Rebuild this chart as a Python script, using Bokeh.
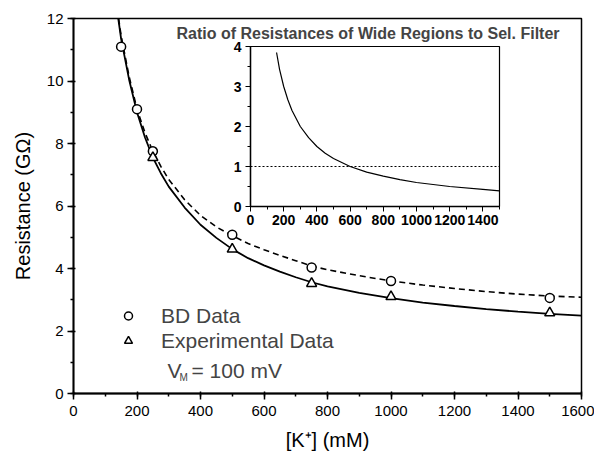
from bokeh.plotting import figure
from bokeh.models import (Range1d, SingleIntervalTicker, Legend, LegendItem, Label, Span)
from bokeh.embed import file_html
from bokeh.resources import INLINE

# ---- data ----
bd_x = [150, 200, 250, 500, 750, 1000, 1500]
bd_y = [11.1, 9.1, 7.75, 5.08, 4.03, 3.6, 3.06]
exp_x = [250, 500, 750, 1000, 1500]
exp_y = [7.55, 4.62, 3.52, 3.1, 2.58]

fit_exp_x = [141, 150, 175, 200, 225, 250, 275, 300, 350, 400, 450, 500, 550, 600, 650, 700,
             750, 800, 900, 1000, 1100, 1200, 1300, 1400, 1500, 1600]
fit_exp_y = [12.0, 11.35, 10.05, 9.0, 8.2, 7.55, 7.05, 6.62, 5.95, 5.4, 4.98, 4.62, 4.33, 4.1, 3.9, 3.72,
             3.56, 3.43, 3.22, 3.05, 2.91, 2.8, 2.7, 2.62, 2.55, 2.49]
fit_bd_x = [142, 150, 175, 200, 225, 250, 275, 300, 350, 400, 450, 500, 550, 600, 650, 700,
            750, 800, 900, 1000, 1100, 1200, 1300, 1400, 1500, 1600]
fit_bd_y = [12.0, 11.45, 10.15, 9.1, 8.35, 7.75, 7.27, 6.85, 6.2, 5.7, 5.33, 5.05, 4.8, 4.6, 4.42, 4.25,
            4.08, 3.96, 3.77, 3.6, 3.47, 3.36, 3.26, 3.18, 3.12, 3.08]

ratio_x = [157, 175, 200, 225, 250, 300, 350, 400, 450, 500, 600, 700, 800, 900, 1000, 1200, 1400, 1500]
ratio_y = [3.85, 3.43, 3.0, 2.67, 2.4, 2.0, 1.72, 1.5, 1.33, 1.2, 1.0, 0.86, 0.76, 0.67, 0.6, 0.5, 0.43, 0.39]
ratio_ref = 1.0

FONT = "Liberation Sans"

# ---- main figure ----
p = figure(width=586, height=446, output_backend="svg", toolbar_location=None,
           x_range=Range1d(0, 1600), y_range=Range1d(0, 12),
           min_border_left=64, min_border_right=13, min_border_top=10, min_border_bottom=61)
p.grid.visible = False
p.outline_line_color = "black"
p.outline_line_width = 1.5
p.background_fill_color = "white"
p.border_fill_color = "white"

p.xaxis.ticker = SingleIntervalTicker(interval=200, num_minor_ticks=2)
p.yaxis.ticker = SingleIntervalTicker(interval=2, num_minor_ticks=2)
for ax in (p.xaxis[0], p.yaxis[0]):
    ax.axis_line_width = 1.8
    ax.major_tick_line_width = 1.5
    ax.minor_tick_line_width = 1.5
    ax.major_tick_out = 6
    ax.major_tick_in = 2
    ax.minor_tick_out = 3
    ax.minor_tick_in = 0
    ax.major_label_text_font = FONT
    ax.major_label_text_font_size = "15px"
    ax.major_label_text_color = "black"
    ax.axis_label_text_font = FONT
    ax.axis_label_text_font_style = "normal"
    ax.axis_label_text_font_size = "20px"
    ax.axis_label_text_color = "black"
p.xaxis.axis_label = "[K\u207a] (mM)"
p.yaxis.axis_label = "Resistance (G\u03a9)"
p.xaxis.major_label_standoff = 6
p.xaxis.axis_label_standoff = 10
p.yaxis.major_label_standoff = 4
p.yaxis.axis_label_standoff = 10

p.line(fit_exp_x, fit_exp_y, line_color="black", line_width=1.8)
p.line(fit_bd_x, fit_bd_y, line_color="black", line_width=1.6, line_dash="6 4")
r_bd = p.scatter(bd_x, bd_y, marker="circle", size=9, fill_color="white",
                 line_color="black", line_width=1.5)
r_exp = p.scatter(exp_x, exp_y, marker="triangle", size=10, fill_color="white",
                  line_color="black", line_width=1.5)

legend = Legend(items=[LegendItem(label="BD Data", renderers=[r_bd]),
                       LegendItem(label="Experimental Data", renderers=[r_exp])],
                location=(45, 40), padding=0, spacing=0, margin=0,
                glyph_width=20, glyph_height=25, label_height=25, label_standoff=23,
                label_text_font=FONT, label_text_font_size="21px",
                border_line_color=None, background_fill_alpha=0)
p.add_layout(legend, "center")

p.add_layout(Label(x=94, y=23, x_units="screen", y_units="screen", text="V",
                   text_font=FONT, text_font_size="21px", text_baseline="middle"))
p.add_layout(Label(x=106, y=16, x_units="screen", y_units="screen", text="M",
                   text_font=FONT, text_font_size="10px", text_baseline="middle"))
p.add_layout(Label(x=118, y=23, x_units="screen", y_units="screen", text="= 100 mV",
                   text_font=FONT, text_font_size="21px", text_baseline="middle"))

# ---- inset ----
inset = figure(width=400, height=216, output_backend="svg", toolbar_location=None,
               x_range=Range1d(0, 1500), y_range=Range1d(0, 4),
               min_border_left=80, min_border_right=71, min_border_top=32, min_border_bottom=24,
               title="Ratio of Resistances of Wide Regions to Sel. Filter")
inset.title.text_font = FONT
inset.title.text_font_size = "16px"
inset.title.text_font_style = "bold"
inset.title.align = "left"
inset.title.offset = -74
inset.title.standoff = 9
inset.grid.visible = False
inset.border_fill_alpha = 0
inset.background_fill_color = "white"
inset.outline_line_color = "black"
inset.outline_line_width = 1.2
inset.xaxis.ticker = SingleIntervalTicker(interval=200, num_minor_ticks=2)
inset.yaxis.ticker = SingleIntervalTicker(interval=1, num_minor_ticks=2)
for ax in (inset.xaxis[0], inset.yaxis[0]):
    ax.axis_line_width = 1.4
    ax.major_tick_out = 5
    ax.major_tick_in = 0
    ax.minor_tick_out = 3
    ax.minor_tick_in = 0
    ax.major_label_text_font = FONT
    ax.major_label_text_font_size = "14px"
    ax.major_label_text_font_style = "bold"
    ax.major_label_text_color = "black"
inset.xaxis.major_label_standoff = 3
inset.yaxis.major_label_standoff = 4

inset.line(ratio_x, ratio_y, line_color="black", line_width=1.2)
inset.add_layout(Span(location=ratio_ref, dimension="width", line_color="black",
                      line_width=1, line_dash="2 2"))

p.styles = {"position": "absolute", "left": "8px", "top": "8px", "z-index": "1"}
inset.styles = {"position": "absolute", "left": "170px", "top": "14px", "z-index": "2"}

open("out.html", "w").write(file_html([p, inset], INLINE))
